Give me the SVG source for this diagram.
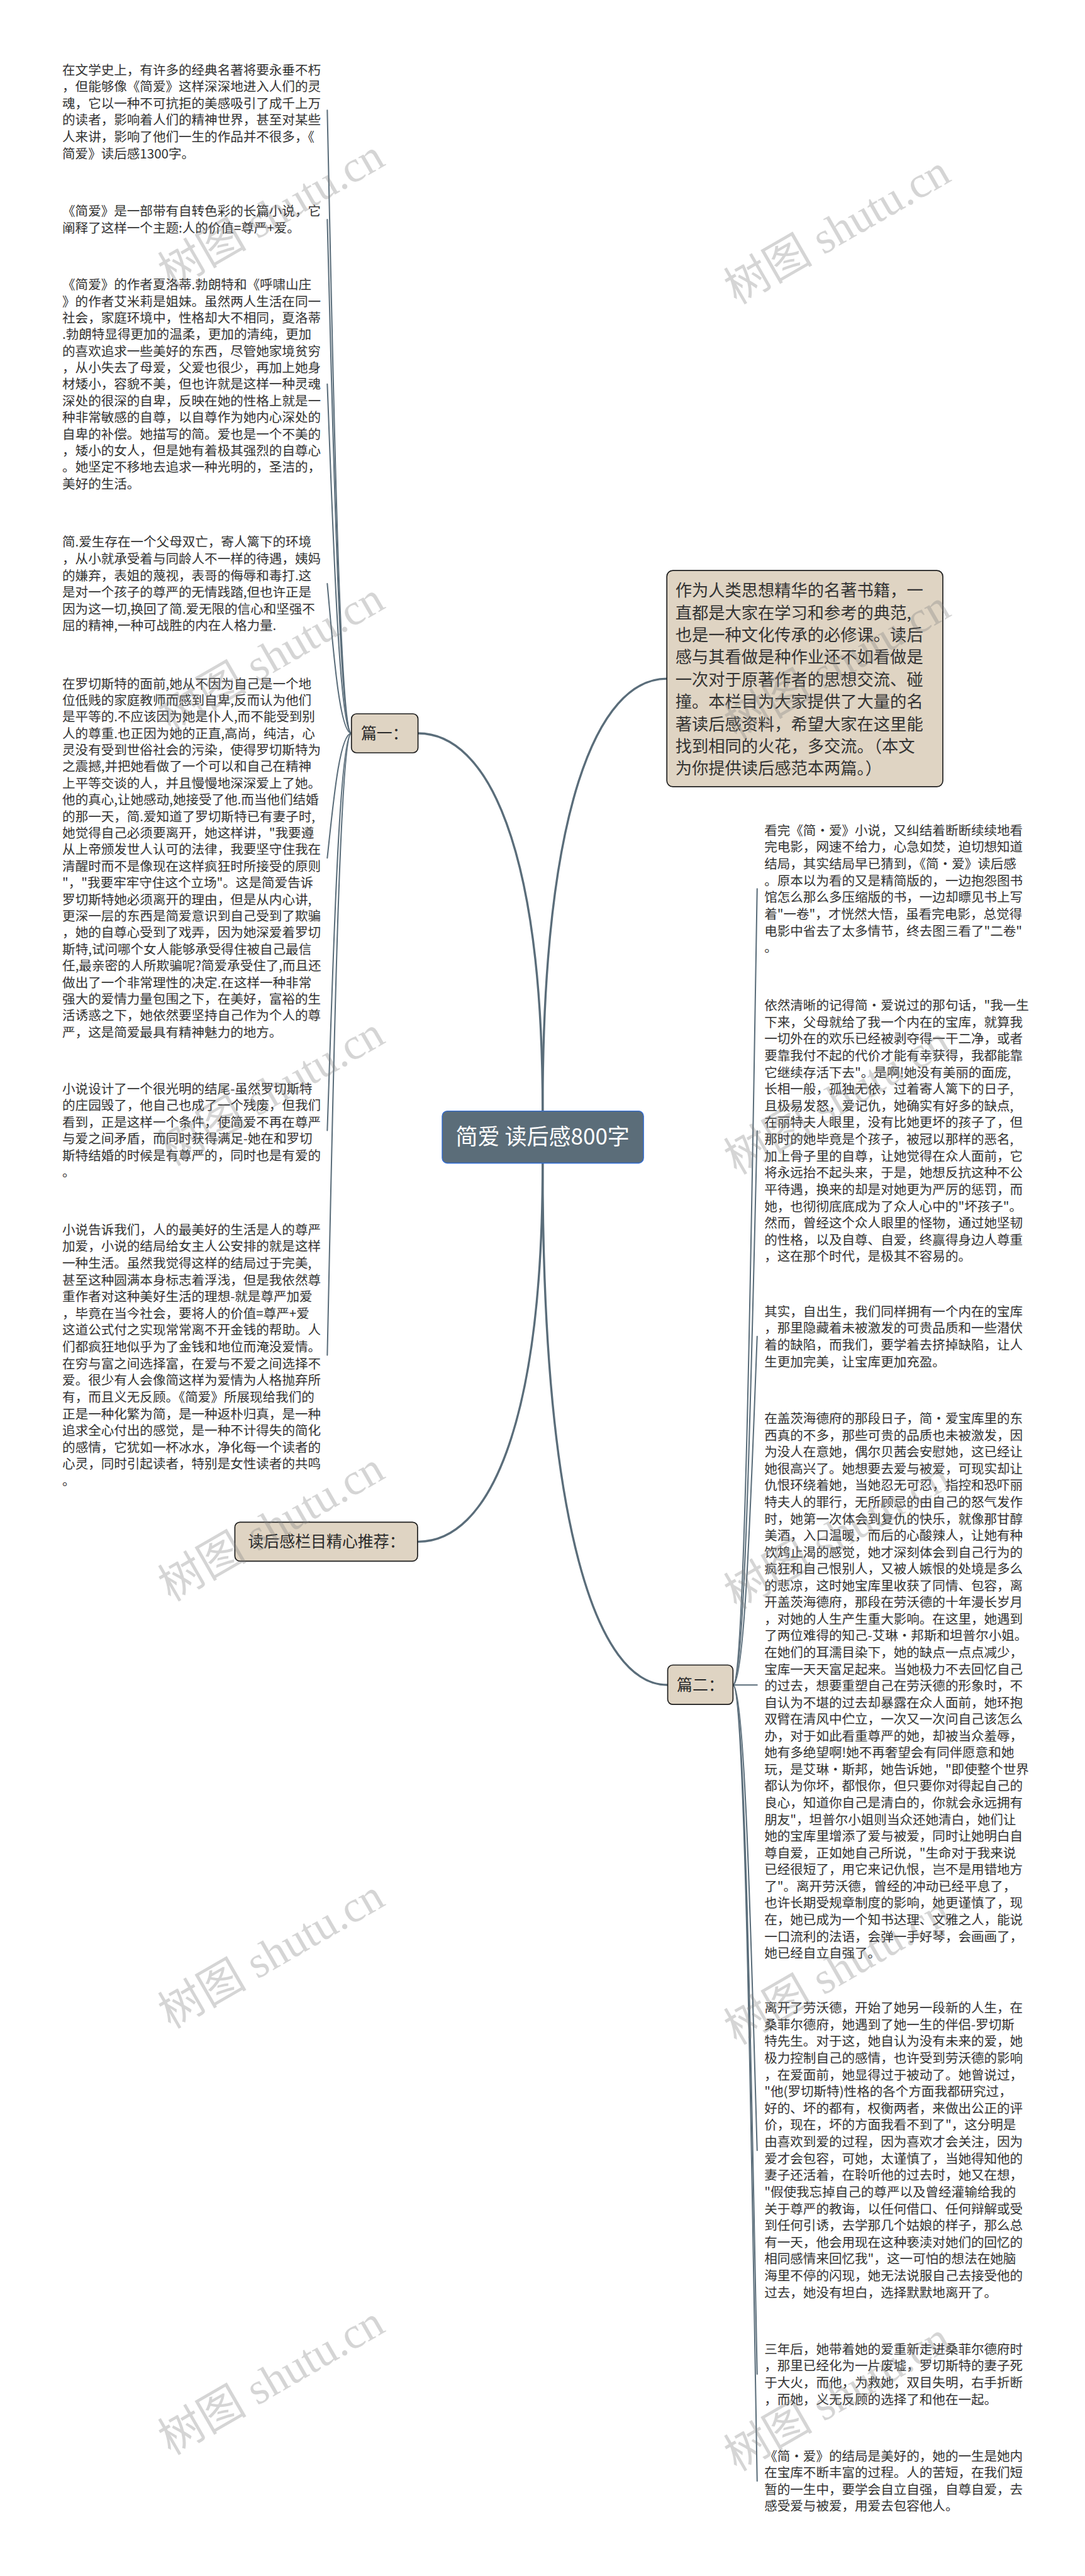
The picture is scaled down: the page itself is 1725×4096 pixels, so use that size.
<svg xmlns="http://www.w3.org/2000/svg" width="1725" height="4096" viewBox="0 0 1725 4096">
<style>
.t{font-family:"Noto Sans CJK SC","Liberation Sans",sans-serif;font-size:30.5px;fill:#333}
.bt{font-family:"Noto Sans CJK SC","Liberation Sans",sans-serif;font-size:39px;fill:#333}
.nt{font-family:"Noto Sans CJK SC","Liberation Sans",sans-serif;font-size:37px;fill:#2a2a2a;text-anchor:middle}
.ct{font-family:"Noto Sans CJK SC","Liberation Sans",sans-serif;font-size:52px;fill:#fff;text-anchor:middle}
.node{fill:#DFD4C3;stroke:#1c1c1c;stroke-width:2.5}
.c1{fill:none;stroke:#5A6D7A;stroke-width:5;stroke-linecap:round}
.c2{fill:none;stroke:#5A6D7A;stroke-width:3;stroke-linecap:round}
.wm{font-family:"Liberation Serif","Noto Sans CJK SC",serif;font-size:105px;fill:#808080;fill-opacity:0.33;text-anchor:middle}
</style>
<rect width="1725" height="4096" fill="#fff"/>
<g transform="scale(0.674)">
<g id="connectors">
<path class="c1" d="M986,1730 C1150,1730 1280,1997 1280,2621"/>
<path class="c1" d="M1573,1601 C1409,1601 1280,1907 1280,2621"/>
<path class="c1" d="M987,3637 C1151,3637 1280,3369 1280,2744"/>
<path class="c1" d="M1574,3975 C1409,3975 1280,3606 1280,2744"/>
<path class="c2" d="M829,1730 C800,1730 785,848 772,260"/>
<path class="c2" d="M829,1730 C800,1730 785,1003 772,518"/>
<path class="c2" d="M829,1730 C800,1730 785,1236 772,906"/>
<path class="c2" d="M829,1730 C800,1730 785,1518 772,1377"/>
<path class="c2" d="M829,1730 C800,1730 785,1906 772,2024"/>
<path class="c2" d="M829,1730 C800,1730 785,2292 772,2667"/>
<path class="c2" d="M829,1730 C800,1730 785,2610 772,3197"/>
<path class="c2" d="M1729,3975 C1758,3975 1773,2848 1786,2097"/>
<path class="c2" d="M1729,3975 C1758,3975 1773,3191 1786,2668"/>
<path class="c2" d="M1729,3975 C1758,3975 1773,3482 1786,3153"/>
<path class="c2" d="M1729,3975 L1786,3975"/>
<path class="c2" d="M1729,3975 C1758,3975 1773,4634 1786,5073"/>
<path class="c2" d="M1729,3975 C1758,3975 1773,4951 1786,5601"/>
<path class="c2" d="M1729,3975 C1758,3975 1773,5102 1786,5853"/>
</g>
<g id="center">
<rect x="1043" y="2621" width="475" height="123" rx="12" fill="#5B6D79" stroke="#2E6BD6" stroke-width="2"/>
<text class="ct" x="1280" y="2700">简爱 读后感800字</text>
</g>
<g id="intro">
<rect class="node" x="1573" y="1346" width="651" height="510" rx="14"/>
<text class="bt" x="1593" y="1407"><tspan x="1593">作为人类思想精华的名著书籍，一</tspan><tspan x="1593" dy="52.5">直都是大家在学习和参考的典范,</tspan><tspan x="1593" dy="52.5">也是一种文化传承的必修课。读后</tspan><tspan x="1593" dy="52.5">感与其看做是种作业还不如看做是</tspan><tspan x="1593" dy="52.5">一次对于原著作者的思想交流、碰</tspan><tspan x="1593" dy="52.5">撞。本栏目为大家提供了大量的名</tspan><tspan x="1593" dy="52.5">著读后感资料，希望大家在这里能</tspan><tspan x="1593" dy="52.5">找到相同的火花，多交流。（本文</tspan><tspan x="1593" dy="52.5">为你提供读后感范本两篇。）</tspan></text>
</g>
<g id="pian1">
<rect class="node" x="829" y="1684" width="157" height="92" rx="12"/>
<text class="nt" x="907" y="1743.5">篇一：</text>
</g>
<g id="tuijian">
<rect class="node" x="554" y="3591" width="431" height="92" rx="12"/>
<text class="nt" x="770" y="3650.5">读后感栏目精心推荐：</text>
</g>
<g id="pian2">
<rect class="node" x="1575" y="3928" width="154" height="93" rx="12"/>
<text class="nt" x="1652" y="3988.5">篇二：</text>
</g>
<g id="leaf-l1"><text class="t" x="147" y="176"><tspan x="147">在文学史上，有许多的经典名著将要永垂不朽</tspan><tspan x="147" dy="39.5">，但能够像《简爱》这样深深地进入人们的灵</tspan><tspan x="147" dy="39.5">魂，它以一种不可抗拒的美感吸引了成千上万</tspan><tspan x="147" dy="39.5">的读者，影响着人们的精神世界，甚至对某些</tspan><tspan x="147" dy="39.5">人来讲，影响了他们一生的作品并不很多，《</tspan><tspan x="147" dy="39.5">简爱》读后感1300字。</tspan></text></g>
<g id="leaf-l2"><text class="t" x="147" y="509"><tspan x="147">《简爱》是一部带有自转色彩的长篇小说，它</tspan><tspan x="147" dy="40">阐释了这样一个主题:人的价值=尊严+爱。</tspan></text></g>
<g id="leaf-l3"><text class="t" x="147" y="683"><tspan x="147">《简爱》的作者夏洛蒂.勃朗特和《呼啸山庄</tspan><tspan x="147" dy="39.1">》的作者艾米莉是姐妹。虽然两人生活在同一</tspan><tspan x="147" dy="39.1">社会，家庭环境中，性格却大不相同，夏洛蒂</tspan><tspan x="147" dy="39.1">.勃朗特显得更加的温柔，更加的清纯，更加</tspan><tspan x="147" dy="39.1">的喜欢追求一些美好的东西，尽管她家境贫穷</tspan><tspan x="147" dy="39.1">，从小失去了母爱，父爱也很少，再加上她身</tspan><tspan x="147" dy="39.1">材矮小，容貌不美，但也许就是这样一种灵魂</tspan><tspan x="147" dy="39.1">深处的很深的自卑，反映在她的性格上就是一</tspan><tspan x="147" dy="39.1">种非常敏感的自尊，以自尊作为她内心深处的</tspan><tspan x="147" dy="39.1">自卑的补偿。她描写的简。爱也是一个不美的</tspan><tspan x="147" dy="39.1">，矮小的女人，但是她有着极其强烈的自尊心</tspan><tspan x="147" dy="39.1">。她坚定不移地去追求一种光明的，圣洁的，</tspan><tspan x="147" dy="39.1">美好的生活。</tspan></text></g>
<g id="leaf-l4"><text class="t" x="147" y="1290"><tspan x="147">简.爱生存在一个父母双亡，寄人篱下的环境</tspan><tspan x="147" dy="39.4">，从小就承受着与同龄人不一样的待遇，姨妈</tspan><tspan x="147" dy="39.4">的嫌弃，表姐的蔑视，表哥的侮辱和毒打.这</tspan><tspan x="147" dy="39.4">是对一个孩子的尊严的无情践踏,但也许正是</tspan><tspan x="147" dy="39.4">因为这一切,换回了简.爱无限的信心和坚强不</tspan><tspan x="147" dy="39.4">屈的精神,一种可战胜的内在人格力量.</tspan></text></g>
<g id="leaf-l5"><text class="t" x="147" y="1624"><tspan x="147">在罗切斯特的面前,她从不因为自己是一个地</tspan><tspan x="147" dy="39.15">位低贱的家庭教师而感到自卑,反而认为他们</tspan><tspan x="147" dy="39.15">是平等的.不应该因为她是仆人,而不能受到别</tspan><tspan x="147" dy="39.15">人的尊重.也正因为她的正直,高尚，纯洁，心</tspan><tspan x="147" dy="39.15">灵没有受到世俗社会的污染，使得罗切斯特为</tspan><tspan x="147" dy="39.15">之震撼,并把她看做了一个可以和自己在精神</tspan><tspan x="147" dy="39.15">上平等交谈的人，并且慢慢地深深爱上了她。</tspan><tspan x="147" dy="39.15">他的真心,让她感动,她接受了他.而当他们结婚</tspan><tspan x="147" dy="39.15">的那一天，简.爱知道了罗切斯特已有妻子时,</tspan><tspan x="147" dy="39.15">她觉得自己必须要离开，她这样讲，"我要遵</tspan><tspan x="147" dy="39.15">从上帝颁发世人认可的法律，我要坚守住我在</tspan><tspan x="147" dy="39.15">清醒时而不是像现在这样疯狂时所接受的原则</tspan><tspan x="147" dy="39.15">"，"我要牢牢守住这个立场"。这是简爱告诉</tspan><tspan x="147" dy="39.15">罗切斯特她必须离开的理由，但是从内心讲,</tspan><tspan x="147" dy="39.15">更深一层的东西是简爱意识到自己受到了欺骗</tspan><tspan x="147" dy="39.15">，她的自尊心受到了戏弄，因为她深爱着罗切</tspan><tspan x="147" dy="39.15">斯特,试问哪个女人能够承受得住被自己最信</tspan><tspan x="147" dy="39.15">任,最亲密的人所欺骗呢?简爱承受住了,而且还</tspan><tspan x="147" dy="39.15">做出了一个非常理性的决定.在这样一种非常</tspan><tspan x="147" dy="39.15">强大的爱情力量包围之下，在美好，富裕的生</tspan><tspan x="147" dy="39.15">活诱惑之下，她依然要坚持自己作为个人的尊</tspan><tspan x="147" dy="39.15">严，这是简爱最具有精神魅力的地方。</tspan></text></g>
<g id="leaf-l6"><text class="t" x="147" y="2580"><tspan x="147">小说设计了一个很光明的结尾-虽然罗切斯特</tspan><tspan x="147" dy="39.3">的庄园毁了，他自己也成了一个残废，但我们</tspan><tspan x="147" dy="39.3">看到，正是这样一个条件，使简爱不再在尊严</tspan><tspan x="147" dy="39.3">与爱之间矛盾，而同时获得满足-她在和罗切</tspan><tspan x="147" dy="39.3">斯特结婚的时候是有尊严的，同时也是有爱的</tspan><tspan x="147" dy="39.3">。</tspan></text></g>
<g id="leaf-l7"><text class="t" x="147" y="2912"><tspan x="147">小说告诉我们，人的最美好的生活是人的尊严</tspan><tspan x="147" dy="39.5">加爱，小说的结局给女主人公安排的就是这样</tspan><tspan x="147" dy="39.5">一种生活。虽然我觉得这样的结局过于完美,</tspan><tspan x="147" dy="39.5">甚至这种圆满本身标志着浮浅，但是我依然尊</tspan><tspan x="147" dy="39.5">重作者对这种美好生活的理想-就是尊严加爱</tspan><tspan x="147" dy="39.5">，毕竟在当今社会，要将人的价值=尊严+爱</tspan><tspan x="147" dy="39.5">这道公式付之实现常常离不开金钱的帮助。人</tspan><tspan x="147" dy="39.5">们都疯狂地似乎为了金钱和地位而淹没爱情。</tspan><tspan x="147" dy="39.5">在穷与富之间选择富，在爱与不爱之间选择不</tspan><tspan x="147" dy="39.5">爱。很少有人会像简这样为爱情为人格抛弃所</tspan><tspan x="147" dy="39.5">有，而且义无反顾。《简爱》所展现给我们的</tspan><tspan x="147" dy="39.5">正是一种化繁为简，是一种返朴归真，是一种</tspan><tspan x="147" dy="39.5">追求全心付出的感觉，是一种不计得失的简化</tspan><tspan x="147" dy="39.5">的感情，它犹如一杯冰水，净化每一个读者的</tspan><tspan x="147" dy="39.5">心灵，同时引起读者，特别是女性读者的共鸣</tspan><tspan x="147" dy="39.5">。</tspan></text></g>
<g id="leaf-r1"><text class="t" x="1803" y="1970"><tspan x="1803">看完《简·爱》小说，又纠结着断断续续地看</tspan><tspan x="1803" dy="39.5">完电影，网速不给力，心急如焚，迫切想知道</tspan><tspan x="1803" dy="39.5">结局，其实结局早已猜到，《简·爱》读后感</tspan><tspan x="1803" dy="39.5">。原本以为看的又是精简版的，一边抱怨图书</tspan><tspan x="1803" dy="39.5">馆怎么那么多压缩版的书，一边却瞟见书上写</tspan><tspan x="1803" dy="39.5">着"一卷"，才恍然大悟，虽看完电影，总觉得</tspan><tspan x="1803" dy="39.5">电影中省去了太多情节，终去图三看了"二卷"</tspan><tspan x="1803" dy="39.5">。</tspan></text></g>
<g id="leaf-r2"><text class="t" x="1803" y="2383"><tspan x="1803">依然清晰的记得简·爱说过的那句话，"我一生</tspan><tspan x="1803" dy="39.5">下来，父母就给了我一个内在的宝库，就算我</tspan><tspan x="1803" dy="39.5">一切外在的欢乐已经被剥夺得一干二净，或者</tspan><tspan x="1803" dy="39.5">要靠我付不起的代价才能有幸获得，我都能靠</tspan><tspan x="1803" dy="39.5">它继续存活下去"。是啊!她没有美丽的面庞,</tspan><tspan x="1803" dy="39.5">长相一般，孤独无依，过着寄人篱下的日子,</tspan><tspan x="1803" dy="39.5">且极易发怒，爱记仇，她确实有好多的缺点,</tspan><tspan x="1803" dy="39.5">在丽特夫人眼里，没有比她更坏的孩子了，但</tspan><tspan x="1803" dy="39.5">那时的她毕竟是个孩子，被冠以那样的恶名,</tspan><tspan x="1803" dy="39.5">加上骨子里的自尊，让她觉得在众人面前，它</tspan><tspan x="1803" dy="39.5">将永远抬不起头来，于是，她想反抗这种不公</tspan><tspan x="1803" dy="39.5">平待遇，换来的却是对她更为严厉的惩罚，而</tspan><tspan x="1803" dy="39.5">她，也彻彻底底成为了众人心中的"坏孩子"。</tspan><tspan x="1803" dy="39.5">然而，曾经这个众人眼里的怪物，通过她坚韧</tspan><tspan x="1803" dy="39.5">的性格，以及自尊、自爱，终赢得身边人尊重</tspan><tspan x="1803" dy="39.5">，这在那个时代，是极其不容易的。</tspan></text></g>
<g id="leaf-r3"><text class="t" x="1803" y="3105"><tspan x="1803">其实，自出生，我们同样拥有一个内在的宝库</tspan><tspan x="1803" dy="39.5">，那里隐藏着未被激发的可贵品质和一些潜伏</tspan><tspan x="1803" dy="39.5">着的缺陷，而我们，要学着去挤掉缺陷，让人</tspan><tspan x="1803" dy="39.5">生更加完美，让宝库更加充盈。</tspan></text></g>
<g id="leaf-r4"><text class="t" x="1803" y="3358"><tspan x="1803">在盖茨海德府的那段日子，简·爱宝库里的东</tspan><tspan x="1803" dy="39.4">西真的不多，那些可贵的品质也未被激发，因</tspan><tspan x="1803" dy="39.4">为没人在意她，偶尔贝茜会安慰她，这已经让</tspan><tspan x="1803" dy="39.4">她很高兴了。她想要去爱与被爱，可现实却让</tspan><tspan x="1803" dy="39.4">仇恨环绕着她，当她忍无可忍，指控和恐吓丽</tspan><tspan x="1803" dy="39.4">特夫人的罪行，无所顾忌的由自己的怒气发作</tspan><tspan x="1803" dy="39.4">时，她第一次体会到复仇的快乐，就像那甘醇</tspan><tspan x="1803" dy="39.4">美酒，入口温暖，而后的心酸辣人，让她有种</tspan><tspan x="1803" dy="39.4">饮鸩止渴的感觉，她才深刻体会到自己行为的</tspan><tspan x="1803" dy="39.4">疯狂和自己恨别人，又被人嫉恨的处境是多么</tspan><tspan x="1803" dy="39.4">的悲凉，这时她宝库里收获了同情、包容，离</tspan><tspan x="1803" dy="39.4">开盖茨海德府，那段在劳沃德的十年漫长岁月</tspan><tspan x="1803" dy="39.4">，对她的人生产生重大影响。在这里，她遇到</tspan><tspan x="1803" dy="39.4">了两位难得的知己-艾琳·邦斯和坦普尔小姐。</tspan><tspan x="1803" dy="39.4">在她们的耳濡目染下，她的缺点一点点减少，</tspan><tspan x="1803" dy="39.4">宝库一天天富足起来。当她极力不去回忆自己</tspan><tspan x="1803" dy="39.4">的过去，想要重塑自己在劳沃德的形象时，不</tspan><tspan x="1803" dy="39.4">自认为不堪的过去却暴露在众人面前，她环抱</tspan><tspan x="1803" dy="39.4">双臂在清风中伫立，一次又一次问自己该怎么</tspan><tspan x="1803" dy="39.4">办，对于如此看重尊严的她，却被当众羞辱，</tspan><tspan x="1803" dy="39.4">她有多绝望啊!她不再奢望会有同伴愿意和她</tspan><tspan x="1803" dy="39.4">玩，是艾琳·斯邦，她告诉她，"即使整个世界</tspan><tspan x="1803" dy="39.4">都认为你坏，都恨你，但只要你对得起自己的</tspan><tspan x="1803" dy="39.4">良心，知道你自己是清白的，你就会永远拥有</tspan><tspan x="1803" dy="39.4">朋友"，坦普尔小姐则当众还她清白，她们让</tspan><tspan x="1803" dy="39.4">她的宝库里增添了爱与被爱，同时让她明白自</tspan><tspan x="1803" dy="39.4">尊自爱，正如她自己所说，"生命对于我来说</tspan><tspan x="1803" dy="39.4">已经很短了，用它来记仇恨，岂不是用错地方</tspan><tspan x="1803" dy="39.4">了"。离开劳沃德，曾经的冲动已经平息了，</tspan><tspan x="1803" dy="39.4">也许长期受规章制度的影响，她更谨慎了，现</tspan><tspan x="1803" dy="39.4">在，她已成为一个知书达理、文雅之人，能说</tspan><tspan x="1803" dy="39.4">一口流利的法语，会弹一手好琴，会画画了，</tspan><tspan x="1803" dy="39.4">她已经自立自强了。</tspan></text></g>
<g id="leaf-r5"><text class="t" x="1803" y="4748"><tspan x="1803">离开了劳沃德，开始了她另一段新的人生，在</tspan><tspan x="1803" dy="39.5">桑菲尔德府，她遇到了她一生的伴侣-罗切斯</tspan><tspan x="1803" dy="39.5">特先生。对于这，她自认为没有未来的爱，她</tspan><tspan x="1803" dy="39.5">极力控制自己的感情，也许受到劳沃德的影响</tspan><tspan x="1803" dy="39.5">，在爱面前，她显得过于被动了。她曾说过，</tspan><tspan x="1803" dy="39.5">"他(罗切斯特)性格的各个方面我都研究过，</tspan><tspan x="1803" dy="39.5">好的、坏的都有，权衡两者，来做出公正的评</tspan><tspan x="1803" dy="39.5">价，现在，坏的方面我看不到了"，这分明是</tspan><tspan x="1803" dy="39.5">由喜欢到爱的过程，因为喜欢才会关注，因为</tspan><tspan x="1803" dy="39.5">爱才会包容，可她，太谨慎了，当她得知他的</tspan><tspan x="1803" dy="39.5">妻子还活着，在聆听他的过去时，她又在想，</tspan><tspan x="1803" dy="39.5">"假使我忘掉自己的尊严以及曾经灌输给我的</tspan><tspan x="1803" dy="39.5">关于尊严的教诲，以任何借口、任何辩解或受</tspan><tspan x="1803" dy="39.5">到任何引诱，去学那几个姑娘的样子，那么总</tspan><tspan x="1803" dy="39.5">有一天，他会用现在这种亵渎对她们的回忆的</tspan><tspan x="1803" dy="39.5">相同感情来回忆我"，这一可怕的想法在她脑</tspan><tspan x="1803" dy="39.5">海里不停的闪现，她无法说服自己去接受他的</tspan><tspan x="1803" dy="39.5">过去，她没有坦白，选择默默地离开了。</tspan></text></g>
<g id="leaf-r6"><text class="t" x="1803" y="5553"><tspan x="1803">三年后，她带着她的爱重新走进桑菲尔德府时</tspan><tspan x="1803" dy="39.5">，那里已经化为一片废墟，罗切斯特的妻子死</tspan><tspan x="1803" dy="39.5">于大火，而他，为救她，双目失明，右手折断</tspan><tspan x="1803" dy="39.5">，而她，义无反顾的选择了和他在一起。</tspan></text></g>
<g id="leaf-r7"><text class="t" x="1803" y="5805"><tspan x="1803">《简·爱》的结局是美好的，她的一生是她内</tspan><tspan x="1803" dy="39.5">在宝库不断丰富的过程。人的苦短，在我们短</tspan><tspan x="1803" dy="39.5">暂的一生中，要学会自立自强，自尊自爱，去</tspan><tspan x="1803" dy="39.5">感受爱与被爱，用爱去包容他人。</tspan></text></g>
<g id="watermarks">
<text class="wm" x="640" y="540" transform="rotate(-30 640 505)">树图 shutu.cn</text>
<text class="wm" x="640" y="1585" transform="rotate(-30 640 1550)">树图 shutu.cn</text>
<text class="wm" x="640" y="2610" transform="rotate(-30 640 2575)">树图 shutu.cn</text>
<text class="wm" x="640" y="3637" transform="rotate(-30 640 3602)">树图 shutu.cn</text>
<text class="wm" x="640" y="4645" transform="rotate(-30 640 4610)">树图 shutu.cn</text>
<text class="wm" x="640" y="5651" transform="rotate(-30 640 5616)">树图 shutu.cn</text>
<text class="wm" x="1975" y="577" transform="rotate(-30 1975 542)">树图 shutu.cn</text>
<text class="wm" x="1975" y="1603" transform="rotate(-30 1975 1568)">树图 shutu.cn</text>
<text class="wm" x="1975" y="2630" transform="rotate(-30 1975 2595)">树图 shutu.cn</text>
<text class="wm" x="1975" y="3656" transform="rotate(-30 1975 3621)">树图 shutu.cn</text>
<text class="wm" x="1975" y="4683" transform="rotate(-30 1975 4648)">树图 shutu.cn</text>
<text class="wm" x="1975" y="5689" transform="rotate(-30 1975 5654)">树图 shutu.cn</text>
</g>
</g>
</svg>
